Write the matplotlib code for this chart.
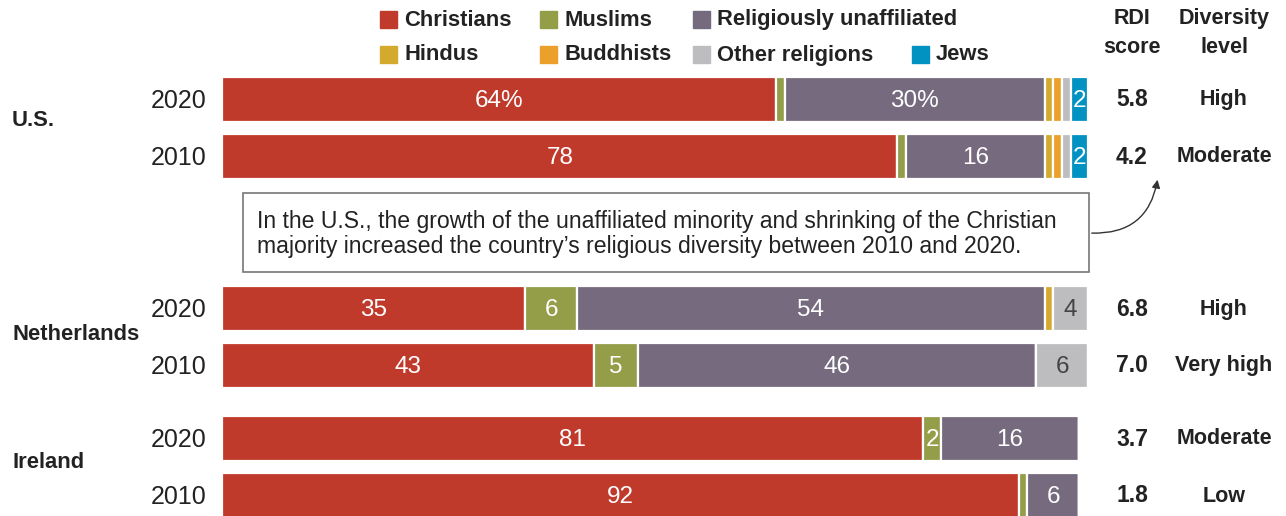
import matplotlib
matplotlib.use("Agg")
import matplotlib.pyplot as plt
from matplotlib.patches import Rectangle, FancyArrowPatch
import numpy as np

# data
groups = ["Christians", "Muslims", "Religiously unaffiliated", "Hindus",
          "Buddhists", "Other religions", "Jews"]
colors = ["#BF3A2B", "#949D48", "#756A7E", "#D4AA2E", "#EAA02A", "#BDBDBF", "#0292C1"]
countries = ["U.S.", "Netherlands", "Ireland"]
years = ["2020", "2010", "2020", "2010", "2020", "2010"]
christians = [64, 78, 35, 43, 81, 92]
muslims = [1, 1, 6, 5, 2, 1]
unaffiliated = [30, 16, 54, 46, 16, 6]
hindus = [1, 1, 1, 0, 0, 0]
buddhists = [1, 1, 0, 0, 0, 0]
other = [1, 1, 4, 6, 0, 0]
jews = [2, 2, 0, 0, 0, 0]
rdi = ["5.8", "4.2", "6.8", "7.0", "3.7", "1.8"]
level = ["High", "Moderate", "High", "Very high", "Moderate", "Low"]
note = ("In the U.S., the growth of the unaffiliated minority and shrinking of the Christian\n"
        "majority increased the country\u2019s religious diversity between 2010 and 2020.")

series = [christians, muslims, unaffiliated, hindus, buddhists, other, jews]

W, H = 1286, 516
plt.rcParams['font.family'] = ['Liberation Sans', 'DejaVu Sans']
fig = plt.figure(figsize=(W / 100, H / 100), dpi=100)
ax = fig.add_axes([222 / W, 0, 866 / W, 1])
ax.set_xlim(0, 100)
ax.set_ylim(H, 0)
ax.axis('off')

# row centres in pixel units (layout)
rows = [99, 156, 308, 365, 438, 495]
bar_h = 45
dark = '#222222'

left = np.zeros(len(rows))
for i, vals in enumerate(series):
    vals = np.array(vals, dtype=float)
    ax.barh(rows, vals, left=left, height=bar_h, color=colors[i],
            edgecolor='white', linewidth=1.6)
    for j, v in enumerate(vals):
        if v >= 2:
            txt = f"{int(v)}%" if j == 0 and i in (0, 2) else f"{int(v)}"
            tc = '#444444' if i == 5 else 'white'
            ax.text(left[j] + v / 2, rows[j] + 2, txt, ha='center', va='center',
                    color=tc, fontsize=17.5)
    left += vals


def fy(p):
    return 1 - p / H


# years, rdi, level
for j, r in enumerate(rows):
    fig.text(207 / W, fy(r + 2), years[j], ha='right', va='center', fontsize=18, color=dark)
    fig.text(1132 / W, fy(r + 1), rdi[j], ha='center', va='center', fontsize=16.5,
             fontweight='bold', color=dark)
    fig.text(1224 / W, fy(r + 1), level[j], ha='center', va='center', fontsize=15.5,
             fontweight='bold', color=dark)

# country labels
for c, p in zip(countries, [121, 334, 463]):
    fig.text(12 / W, fy(p), c, ha='left', va='center', fontsize=15.8,
             fontweight='bold', color=dark)

# column headers
fig.text(1132 / W, fy(33), "RDI\nscore", ha='center', va='center', fontsize=15.5,
         fontweight='bold', color=dark, linespacing=1.45)
fig.text(1224 / W, fy(33), "Diversity\nlevel", ha='center', va='center', fontsize=15.5,
         fontweight='bold', color=dark, linespacing=1.45)

# legend
leg_pos = [(380, 19), (540, 19), (693, 19), (380, 54), (540, 54), (693, 54), (912, 54)]
for k, (x, y) in enumerate(leg_pos):
    fig.patches.append(Rectangle((x / W, fy(y + 9)), 17 / W, 17 / H,
                                 transform=fig.transFigure, color=colors[k]))
    fig.text((x + 24) / W, fy(y + 1), groups[k], ha='left', va='center', fontsize=15.8,
             fontweight='bold', color=dark)

# note box
box = Rectangle((243 / W, fy(272)), (1089 - 243) / W, (272 - 193) / H,
                transform=fig.transFigure, facecolor='white', edgecolor='#777777', lw=1.2)
fig.patches.append(box)
fig.text(257 / W, fy(234), note, ha='left', va='center', fontsize=16.6,
         color=dark, linespacing=1.12)

# arrow
fig.patches.append(FancyArrowPatch(
    (1089 / W, fy(233)), (1158 / W, fy(177)), transform=fig.transFigure,
    connectionstyle="arc3,rad=0.45", arrowstyle='-|>', mutation_scale=12,
    color='#333333', lw=1))

fig.savefig("out.png", dpi=100)
